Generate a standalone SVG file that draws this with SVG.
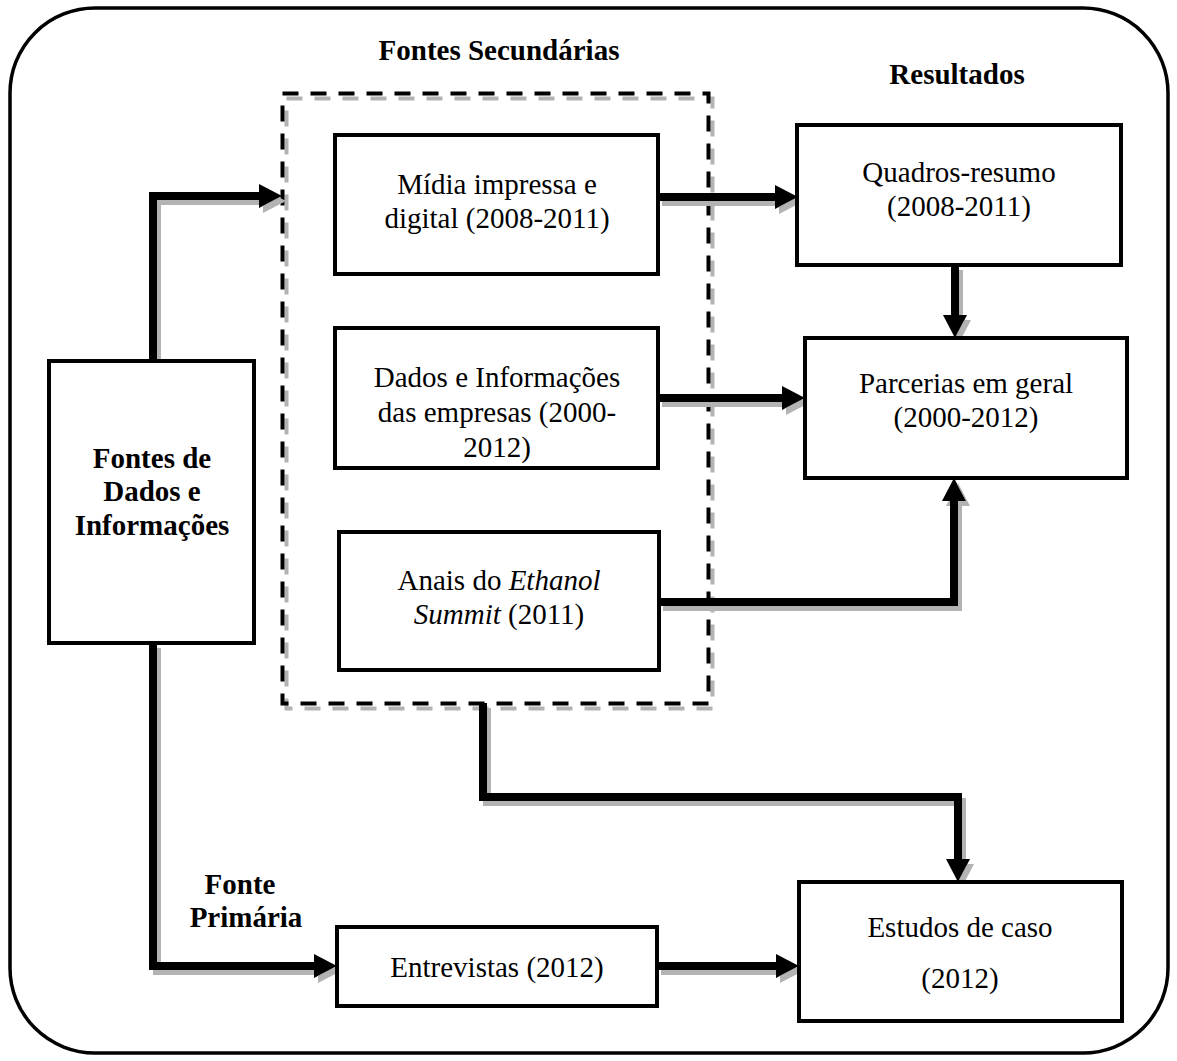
<svg xmlns="http://www.w3.org/2000/svg" width="1177" height="1061" viewBox="0 0 1177 1061">
  <defs>
    <style>
      .box { fill: #ffffff; stroke: #000000; stroke-width: 4; }
      .txt { font-family: "Liberation Serif", "Times New Roman", serif; font-size: 29px; fill: #000000; text-anchor: middle; }
      .bold { font-weight: bold; }
      .conn { fill: none; stroke: #000000; stroke-width: 8; stroke-linejoin: miter; stroke-linecap: butt; marker-end: url(#head); }
      .dash { fill: none; stroke-width: 4; stroke-dasharray: 16 12; }
    </style>
    <marker id="head" markerUnits="userSpaceOnUse" markerWidth="24" markerHeight="24" refX="0" refY="12" orient="auto">
      <path d="M0,0 L23,12 L0,24 z" fill="#000000"/>
    </marker>
    <!-- grey drop shadow under the thick connectors -->
    <filter id="shadow" x="-5%" y="-5%" width="110%" height="110%">
      <feOffset in="SourceAlpha" dx="4" dy="5" result="off"/>
      <feFlood flood-color="#b3b3b3"/>
      <feComposite in2="off" operator="in" result="grey"/>
      <feMerge>
        <feMergeNode in="grey"/>
        <feMergeNode in="SourceGraphic"/>
      </feMerge>
    </filter>
  </defs>

  <rect width="1177" height="1061" fill="#ffffff"/>

  <!-- outer frame -->
  <rect x="10" y="8" width="1158" height="1045" rx="85" ry="85" fill="none" stroke="#000000" stroke-width="3.5"/>

  <!-- secondary sources frame (dashed, with grey shadow) -->
  <g id="secundarias">
    <rect class="dash" x="286.5" y="98.5" width="426" height="610" stroke="#b3b3b3"/>
    <rect class="dash" x="282.5" y="93.5" width="426" height="610" stroke="#000000"/>
  </g>

  <!-- headings -->
  <text class="txt bold" x="499" y="60">Fontes Secundárias</text>
  <text class="txt bold" x="957" y="84">Resultados</text>
  <text class="txt bold" x="240" y="894">Fonte</text>
  <text class="txt bold" x="246" y="927">Primária</text>

  <!-- connectors -->
  <g id="connectors" filter="url(#shadow)">
    <path class="conn" d="M153,361 V196 H259"/>
    <path class="conn" d="M153,643 V966 H314"/>
    <path class="conn" d="M658,197 H775"/>
    <path class="conn" d="M658,398 H782"/>
    <path class="conn" d="M659,602 H954 V501"/>
    <path class="conn" d="M955,265 V315"/>
    <path class="conn" d="M483,703 V797 H958 V859"/>
    <path class="conn" d="M657,966 H776"/>
  </g>

  <!-- nodes -->
  <g id="fontes">
    <rect class="box" x="49" y="361" width="205" height="282"/>
    <text class="txt bold" x="152" y="468">Fontes de</text>
    <text class="txt bold" x="152" y="501">Dados e</text>
    <text class="txt bold" x="152" y="535">Informações</text>
  </g>

  <g id="midia">
    <rect class="box" x="335" y="135" width="323" height="139"/>
    <text class="txt" x="497" y="194">Mídia impressa e</text>
    <text class="txt" x="497" y="228">digital (2008-2011)</text>
  </g>

  <g id="dados">
    <rect class="box" x="335" y="328" width="323" height="140"/>
    <text class="txt" x="497" y="387">Dados e Informações</text>
    <text class="txt" x="497" y="422">das empresas (2000-</text>
    <text class="txt" x="497" y="457">2012)</text>
  </g>

  <g id="anais">
    <rect class="box" x="339" y="532" width="320" height="138"/>
    <text class="txt" x="499" y="590">Anais do <tspan font-style="italic">Ethanol</tspan></text>
    <text class="txt" x="499" y="624"><tspan font-style="italic">Summit</tspan> (2011)</text>
  </g>

  <g id="entrevistas">
    <rect class="box" x="337" y="927" width="320" height="79"/>
    <text class="txt" x="497" y="977">Entrevistas (2012)</text>
  </g>

  <g id="quadros">
    <rect class="box" x="797" y="125" width="324" height="140"/>
    <text class="txt" x="959" y="182">Quadros-resumo</text>
    <text class="txt" x="959" y="216">(2008-2011)</text>
  </g>

  <g id="parcerias">
    <rect class="box" x="805" y="338" width="322" height="140"/>
    <text class="txt" x="966" y="393">Parcerias em geral</text>
    <text class="txt" x="966" y="427">(2000-2012)</text>
  </g>

  <g id="estudos">
    <rect class="box" x="799" y="882" width="323" height="139"/>
    <text class="txt" x="960" y="937">Estudos de caso</text>
    <text class="txt" x="960" y="988">(2012)</text>
  </g>
</svg>
